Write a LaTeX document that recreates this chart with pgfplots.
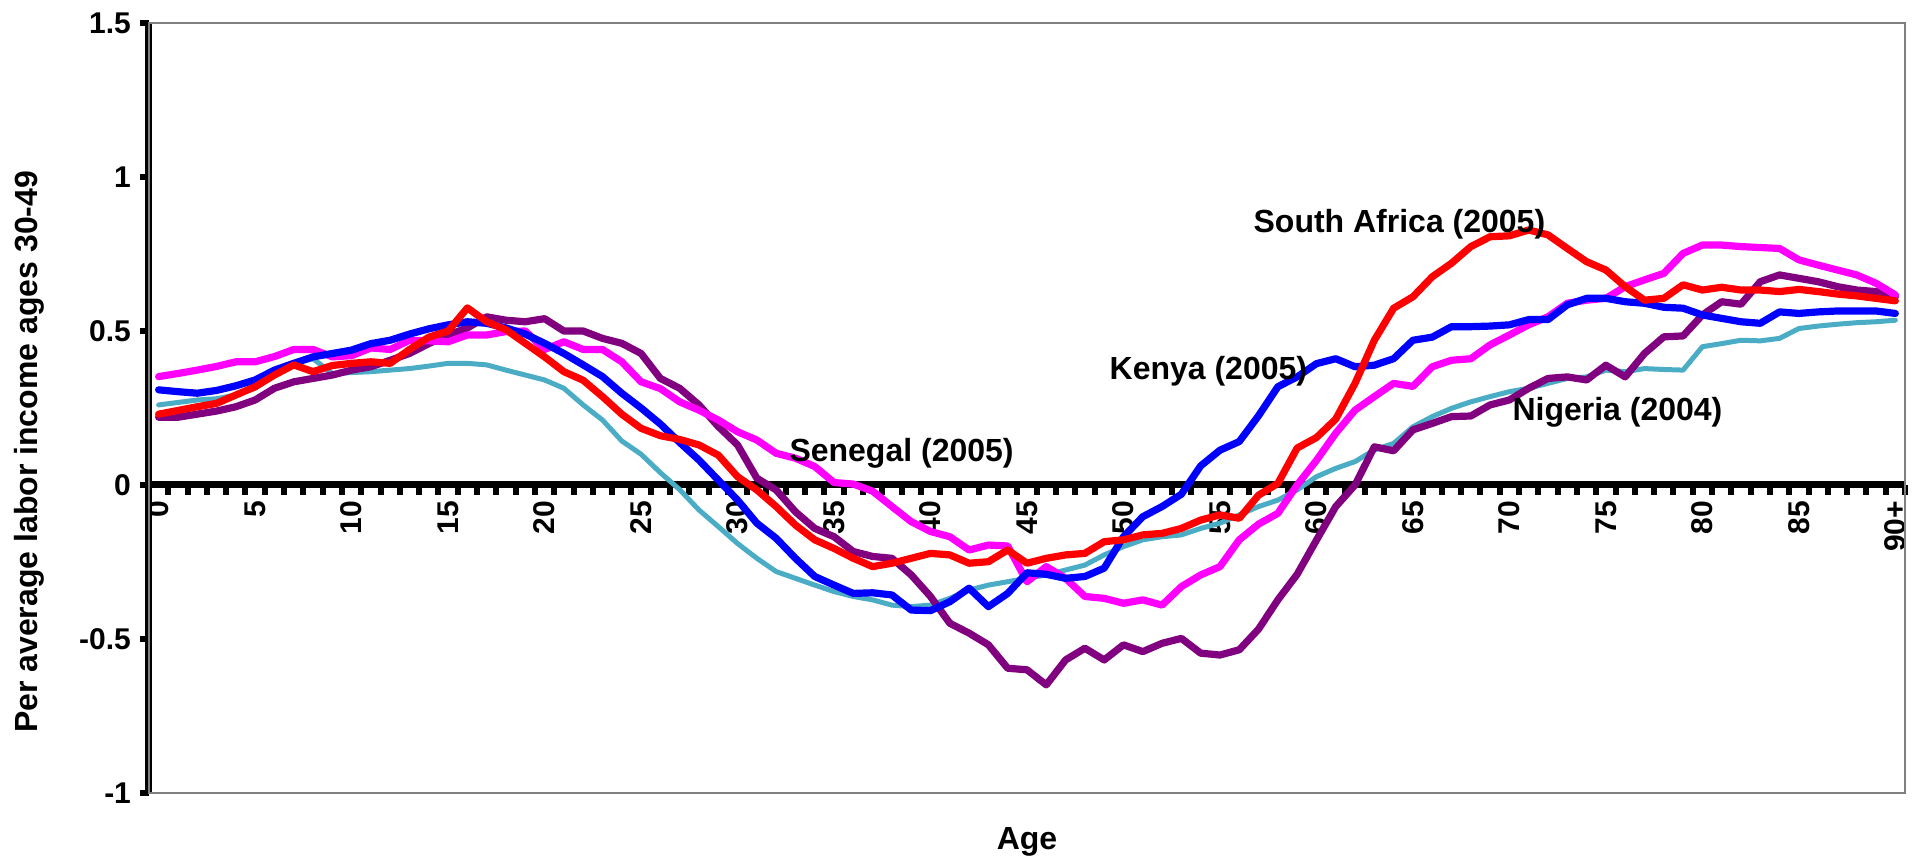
\documentclass[border=0pt]{standalone}
\usepackage{fontspec}
\setmainfont{Liberation Sans}
\usepackage{pgfplots}
\pgfplotsset{compat=1.18}
\definecolor{kblue}{RGB}{0,0,255}
\definecolor{sared}{RGB}{255,0,0}
\definecolor{magen}{RGB}{255,0,255}
\definecolor{purp}{RGB}{128,0,128}
\definecolor{teal2}{RGB}{75,172,198}
\definecolor{framegray}{RGB}{128,128,128}

\pgfplotstableread{
age kenya safrica magenta purple teal
0 0.309 0.230 0.352 0.220 0.260
1 0.303 0.242 0.362 0.220 0.268
2 0.298 0.254 0.373 0.230 0.276
3 0.307 0.265 0.385 0.240 0.280
4 0.322 0.292 0.400 0.254 0.292
5 0.341 0.319 0.400 0.276 0.314
6 0.373 0.357 0.417 0.314 0.357
7 0.395 0.390 0.440 0.335 0.395
8 0.416 0.368 0.440 0.346 0.410
9 0.427 0.388 0.416 0.357 0.362
10 0.438 0.395 0.420 0.373 0.365
11 0.459 0.400 0.445 0.384 0.368
12 0.470 0.395 0.440 0.405 0.373
13 0.490 0.440 0.470 0.427 0.378
14 0.507 0.480 0.468 0.459 0.386
15 0.520 0.500 0.465 0.487 0.395
16 0.530 0.575 0.487 0.510 0.395
17 0.525 0.530 0.487 0.546 0.390
18 0.510 0.504 0.498 0.535 0.373
19 0.490 0.460 0.500 0.530 0.357
20 0.460 0.416 0.440 0.540 0.341
21 0.427 0.368 0.465 0.500 0.314
22 0.390 0.340 0.440 0.500 0.260
23 0.352 0.287 0.440 0.476 0.211
24 0.298 0.230 0.400 0.460 0.143
25 0.250 0.184 0.335 0.427 0.100
26 0.198 0.160 0.313 0.346 0.040
27 0.138 0.148 0.270 0.314 -0.015
28 0.081 0.130 0.243 0.260 -0.081
29 0.016 0.097 0.211 0.190 -0.135
30 -0.049 0.027 0.173 0.130 -0.190
31 -0.124 -0.016 0.146 0.022 -0.238
32 -0.173 -0.070 0.103 -0.016 -0.281
33 -0.238 -0.130 0.087 -0.087 -0.303
34 -0.297 -0.178 0.060 -0.141 -0.325
35 -0.325 -0.206 0.008 -0.168 -0.346
36 -0.352 -0.238 0.003 -0.216 -0.362
37 -0.350 -0.265 -0.020 -0.232 -0.373
38 -0.357 -0.254 -0.070 -0.238 -0.390
39 -0.406 -0.238 -0.119 -0.292 -0.395
40 -0.408 -0.222 -0.151 -0.362 -0.390
41 -0.379 -0.227 -0.168 -0.449 -0.368
42 -0.335 -0.254 -0.211 -0.481 -0.341
43 -0.395 -0.249 -0.195 -0.519 -0.325
44 -0.352 -0.211 -0.198 -0.595 -0.314
45 -0.285 -0.254 -0.314 -0.600 -0.303
46 -0.290 -0.238 -0.265 -0.649 -0.292
47 -0.303 -0.227 -0.303 -0.568 -0.276
48 -0.297 -0.222 -0.362 -0.530 -0.260
49 -0.270 -0.184 -0.368 -0.568 -0.227
50 -0.168 -0.178 -0.384 -0.519 -0.200
51 -0.103 -0.162 -0.373 -0.541 -0.178
52 -0.070 -0.157 -0.390 -0.514 -0.168
53 -0.030 -0.141 -0.330 -0.498 -0.162
54 0.062 -0.114 -0.292 -0.546 -0.141
55 0.113 -0.097 -0.265 -0.552 -0.124
56 0.141 -0.108 -0.178 -0.535 -0.097
57 0.225 -0.033 -0.127 -0.468 -0.070
58 0.319 0.005 -0.092 -0.373 -0.049
59 0.351 0.120 0.000 -0.290 -0.016
60 0.394 0.154 0.080 -0.179 0.027
61 0.410 0.214 0.168 -0.070 0.054
62 0.384 0.330 0.243 0.000 0.076
63 0.389 0.470 0.287 0.124 0.114
64 0.410 0.574 0.330 0.111 0.135
65 0.470 0.611 0.320 0.179 0.189
66 0.480 0.676 0.384 0.200 0.222
67 0.514 0.720 0.405 0.222 0.249
68 0.514 0.774 0.410 0.224 0.270
69 0.516 0.806 0.455 0.260 0.287
70 0.520 0.809 0.487 0.276 0.303
71 0.537 0.828 0.520 0.314 0.314
72 0.537 0.812 0.546 0.346 0.330
73 0.585 0.768 0.590 0.351 0.346
74 0.606 0.725 0.600 0.341 0.351
75 0.606 0.698 0.606 0.389 0.373
76 0.595 0.644 0.644 0.351 0.368
77 0.590 0.600 0.666 0.427 0.378
78 0.577 0.606 0.687 0.481 0.375
79 0.574 0.650 0.752 0.484 0.373
80 0.552 0.633 0.779 0.552 0.449
81 0.541 0.642 0.779 0.595 0.459
82 0.530 0.633 0.774 0.587 0.470
83 0.525 0.633 0.771 0.660 0.468
84 0.562 0.628 0.768 0.682 0.476
85 0.557 0.635 0.731 0.671 0.508
86 0.562 0.628 0.714 0.660 0.516
87 0.565 0.620 0.698 0.644 0.522
88 0.565 0.614 0.682 0.633 0.527
89 0.565 0.606 0.655 0.628 0.530
90 0.557 0.598 0.617 0.612 0.535
}\datatable

\begin{document}
\begin{tikzpicture}
\begin{axis}[
  at={(0,0)}, anchor=south west,
  scale only axis, width=878pt, height=385pt,
  xmin=-0.5, xmax=90.5, ymin=-1, ymax=1.5,
  clip=false,
  axis x line=middle, axis y line=left,
  axis line style={-, line width=3.5pt, black},
  every inner x axis line/.append style={-},
  every outer x axis line/.append style={-},
  every inner y axis line/.append style={-},
  every outer y axis line/.append style={-},
  xtick={0,5,10,15,20,25,30,35,40,45,50,55,60,65,70,75,80,85,90},
  xticklabels={0,5,10,15,20,25,30,35,40,45,50,55,60,65,70,75,80,85,90+},
  minor xtick={0.5,1.5,...,90.5},
  ytick={-1,-0.5,0,0.5,1,1.5},
  yticklabels={-1,-0.5,0,0.5,1,1.5},
  tick align=outside,
  major tick length=4.5pt, minor tick length=5pt,
  major x tick style={draw=none},
  minor x tick style={line width=3pt, black},
  major y tick style={line width=3pt, black},
  tick label style={font=\bfseries\fontsize{15}{17}\selectfont},
  xticklabel style={rotate=90, anchor=east},
  yticklabel style={xshift=-1pt},
  every axis plot/.append style={line join=round, line cap=round, no markers},
]
\draw[framegray, line width=1.35pt] (rel axis cs:0,0) rectangle (rel axis cs:1,1);
\addplot[teal2, line width=2.5pt] table[x=age, y=teal] {\datatable};
\addplot[purp, line width=3.6pt] table[x=age, y=purple] {\datatable};
\addplot[magen, line width=3.6pt] table[x=age, y=magenta] {\datatable};
\addplot[kblue, line width=3.6pt] table[x=age, y=kenya] {\datatable};
\addplot[sared, line width=3.6pt] table[x=age, y=safrica] {\datatable};
\node[inner sep=0, font=\bfseries\fontsize{16}{19}\selectfont] at (axis cs:64.3,0.847) {South Africa (2005)};
\node[inner sep=0, font=\bfseries\fontsize{16}{19}\selectfont] at (axis cs:54.4,0.37) {Kenya (2005)};
\node[inner sep=0, font=\bfseries\fontsize{16}{19}\selectfont] at (axis cs:75.6,0.237) {Nigeria (2004)};
\node[inner sep=0, font=\bfseries\fontsize{16}{19}\selectfont] at (axis cs:38.5,0.104) {Senegal (2005)};
\node[inner sep=0, rotate=90, font=\bfseries\fontsize{16}{19}\selectfont] at ([xshift=-60pt]rel axis cs:0,0.443) {Per average labor income ages 30-49};
\node[inner sep=0, font=\bfseries\fontsize{16}{19}\selectfont] at ([yshift=-24.5pt]rel axis cs:0.5,0) {Age};
\end{axis}
\pgfresetboundingbox
\path[use as bounding box] (-74.5pt,-34.5pt) rectangle (887pt,396.5pt);
\end{tikzpicture}
\end{document}
